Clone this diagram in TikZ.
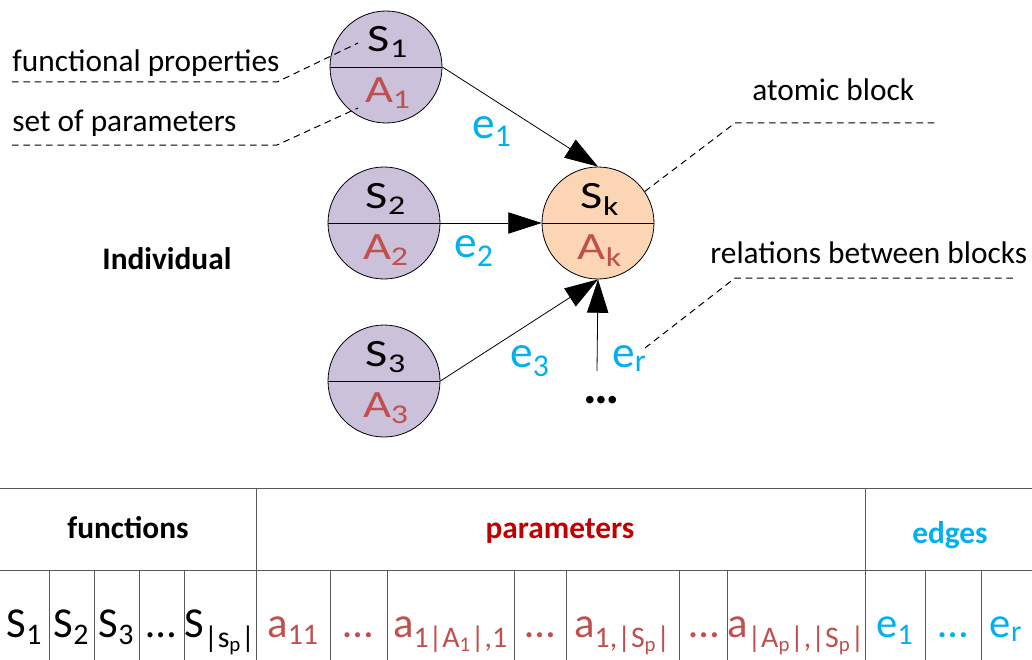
\documentclass[tikz,border=0pt]{standalone}
\usepackage{fontspec}
\setmainfont{Carlito}
\usepackage{amsmath}
\usepackage{xcolor}
\usetikzlibrary{arrows.meta, calc}

\definecolor{blockfill}{HTML}{CCC1DA}
\definecolor{atomfill}{HTML}{FCD5B5}
\definecolor{parred}{HTML}{C0504D}
\definecolor{headred}{HTML}{C00000}
\definecolor{edgeblue}{HTML}{00B0F0}
\newcommand\dn[1]{\ensuremath{_{\text{#1}}}}
\newcommand\wide[1]{\scalebox{1.25}[1]{#1}}

\begin{document}
\begin{tikzpicture}[x=0.75pt, y=-0.75pt, line width=0.6pt, >={Triangle[length=25pt, width=16pt]},
  block/.style={circle, draw, minimum size=84pt, inner sep=0pt, fill=blockfill,
    path picture={\draw (path picture bounding box.west) -- (path picture bounding box.east);}},
  btext/.style={anchor=base, inner sep=0pt, font=\fontsize{29}{34}\selectfont},
  lab/.style={anchor=base west, inner sep=0pt, font=\fontsize{23.5}{28}\selectfont},
  elab/.style={anchor=base west, inner sep=0pt, text=edgeblue, font=\fontsize{34}{38}\selectfont},
  lead/.style={dash pattern=on 5pt off 3.5pt, line width=0.75pt},
  grid/.style={draw=black!65, line width=0.75pt},
  head/.style={anchor=base, inner sep=0pt, font=\fontsize{23.5}{28}\selectfont\bfseries},
  cell/.style={anchor=base, inner sep=0pt, font=\fontsize{32}{36}\selectfont}]
  \useasboundingbox (0,0) rectangle (1032,660);

  % blocks
  \node[block] (s1) at (386,67) {};
  \node[block] (s2) at (384,223) {};
  \node[block] (s3) at (384,381) {};
  \node[block, fill=atomfill] (sk) at (598,223) {};
  \node[btext] (s1s) at ($(s1)+(2,-15)$) {\wide{S\dn{1}}};
  \node[btext, text=parred] (s1a) at ($(s1)+(2,36)$) {\wide{A\dn{1}}};
  \node[btext] (s2s) at ($(s2)+(2,-15)$) {\wide{S\dn{2}}};
  \node[btext, text=parred] (s2a) at ($(s2)+(2,36)$) {\wide{A\dn{2}}};
  \node[btext] (s3s) at ($(s3)+(2,-15)$) {\wide{S\dn{3}}};
  \node[btext, text=parred] (s3a) at ($(s3)+(2,36)$) {\wide{A\dn{3}}};
  \node[btext] (sks) at ($(sk)+(2,-15)$) {\wide{S\dn{k}}};
  \node[btext, text=parred] (ska) at ($(sk)+(2,36)$) {\wide{A\dn{k}}};

  % edges
  \coordinate (erfoot) at (597,371);
  \draw[->] (s1.east) -- (sk.north);
  \draw[->] (s2.east) -- (sk.west);
  \draw[->] (s3.east) -- (sk.south);
  \draw[->] (erfoot) -- (sk.south);
  \node[elab] (e1) at (472,138) {e\dn{1}};
  \node[elab] (e2) at (454,257) {e\dn{2}};
  \node[elab] (e3) at (510,367) {e\dn{3}};
  \node[elab] (er) at (612,367) {e\dn{r}};
  \node[anchor=base, inner sep=0pt, font=\fontsize{38}{42}\selectfont\bfseries] (more) at (602,403) {…};

  % labels
  \node[lab] (fp) at (12,72) {functional properties};
  \node[lab] (sp) at (12,132) {set of parameters};
  \node[lab] (ab) at (752,101) {atomic block};
  \node[lab] (rb) at (710,263) {relations between blocks};
  \node[lab, font=\fontsize{23.5}{28}\selectfont\bfseries] (indiv) at (102,269) {Individual};

  \coordinate (fpk) at (277,82);
  \coordinate (fpin) at (358,43);
  \coordinate (spk) at (277,145);
  \coordinate (spin) at (358,108);
  \coordinate (abk) at (735,123);
  \coordinate (abe) at (938,123);
  \coordinate (rbk) at (735,278);
  \coordinate (rbe) at (1013,278);
  \coordinate (rbin) at (645,348);
  \draw[lead] (fpk -| fp.west) -- (fpk) -- (fpin);
  \draw[lead] (spk -| sp.west) -- (spk) -- (spin);
  \draw[lead] (sk.34) -- (abk) -- (abe);
  \draw[lead] (rbin) -- (rbk) -- (rbe);

  % individual table
  \draw[grid] (0,488) -- (1032,488);
  \draw[grid] (0,570) -- (1032,570);
  \foreach \x in {256,865}
    \draw[grid] (\x,488) -- (\x,660);
  \foreach \x in {49,94,139,184,330,387,514,566,679,727,925,981}
    \draw[grid] (\x,570) -- (\x,660);

  \node[head] (hfun) at (128,538) {functions};
  \node[head, text=headred] (hpar) at (560,538) {parameters};
  \node[head, text=edgeblue] (hedg) at (950,543) {edges};

  \node[cell] (c1) at (24.5,637) {S\dn{1}};
  \node[cell] (c2) at (71.5,637) {S\dn{2}};
  \node[cell] (c3) at (116.5,637) {S\dn{3}};
  \node[cell] (c4) at (161.5,637) {…};
  \node[cell] (c5) at (220,637) {S\dn{|s\dn{p}|}};
  \node[cell, text=parred] (c6) at (293,637) {a\dn{11}};
  \node[cell, text=parred] (c7) at (358.5,637) {…};
  \node[cell, text=parred] (c8) at (450.5,637) {a\dn{1|A\dn{1}|,1}};
  \node[cell, text=parred] (c9) at (540,637) {…};
  \node[cell, text=parred] (c10) at (622.5,637) {a\dn{1,|S\dn{p}|}};
  \node[cell, text=parred] (c11) at (704,637) {…};
  \node[cell, text=parred] (c12) at (796,637) {a\dn{|A\dn{p}|,|S\dn{p}|}};
  \node[cell, text=edgeblue] (c13) at (895,637) {e\dn{1}};
  \node[cell, text=edgeblue] (c14) at (953,637) {…};
  \node[cell, text=edgeblue] (c15) at (1006,637) {e\dn{r}};
\end{tikzpicture}
\end{document}
